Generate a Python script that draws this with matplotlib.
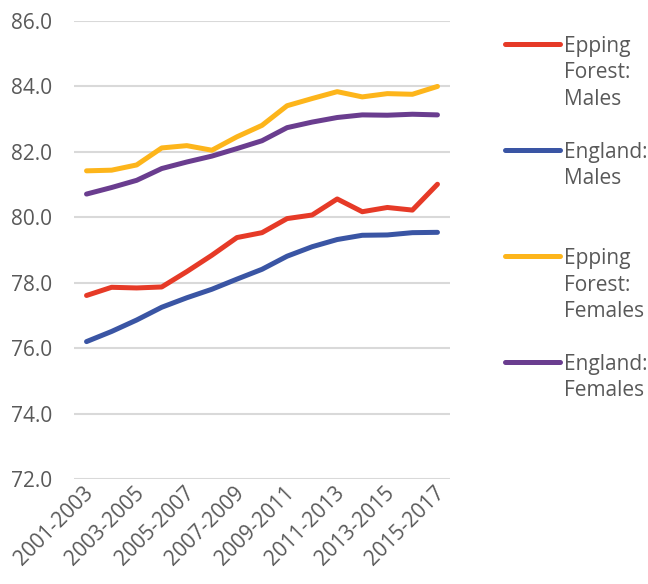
import matplotlib
matplotlib.use("Agg")
import matplotlib.pyplot as plt
from matplotlib.lines import Line2D
from matplotlib.transforms import ScaledTranslation

plt.rcParams['font.family'] = ['Open Sans', 'DejaVu Sans']

periods = ["2001-2003", "2002-2004", "2003-2005", "2004-2006", "2005-2007",
           "2006-2008", "2007-2009", "2008-2010", "2009-2011", "2010-2012",
           "2011-2013", "2012-2014", "2013-2015", "2014-2016", "2015-2017"]

epping_males = [77.61, 77.86, 77.84, 77.87, 78.34, 78.84, 79.38, 79.53,
                79.96, 80.07, 80.56, 80.17, 80.30, 80.22, 81.01]
england_males = [76.20, 76.51, 76.86, 77.25, 77.54, 77.80, 78.11, 78.41,
                 78.81, 79.10, 79.32, 79.45, 79.46, 79.53, 79.54]
epping_females = [81.42, 81.44, 81.60, 82.12, 82.19, 82.05, 82.46, 82.81,
                  83.41, 83.63, 83.84, 83.68, 83.78, 83.76, 84.00]
england_females = [80.71, 80.91, 81.13, 81.49, 81.69, 81.87, 82.10, 82.34,
                   82.74, 82.91, 83.05, 83.13, 83.12, 83.15, 83.13]

series_labels = ["Epping\nForest:\nMales", "England:\nMales",
                 "Epping\nForest:\nFemales", "England:\nFemales"]
series_colors = ["#E63A27", "#3A55A4", "#FDB51B", "#6A3D8F"]
series_values = [epping_males, england_males, epping_females, england_females]

yticks = [72.0, 74.0, 76.0, 78.0, 80.0, 82.0, 84.0, 86.0]

W, H = 648, 584
fig = plt.figure(figsize=(W / 100, H / 100), dpi=100)
ax = fig.add_axes([74 / W, 1 - 479 / H, (450 - 74) / W, (479 - 21) / H])

text_color = "#595959"
fs = 15
lw = 3.6
x = list(range(len(periods)))
for vals, col in zip(series_values, series_colors):
    ax.plot(x, vals, color=col, linewidth=lw, solid_capstyle='round',
            solid_joinstyle='round', zorder=3)

ax.set_xlim(-0.5, len(periods) - 0.5)
ax.set_ylim(72.0, 86.0)
ax.set_yticks(yticks)
ax.set_yticklabels([f"{v:.1f}" for v in yticks], fontsize=fs, color=text_color)
ax.yaxis.grid(True, color="#D9D9D9", linewidth=1.5)
ax.set_axisbelow(True)
for s in ax.spines.values():
    s.set_visible(False)
ax.tick_params(axis='both', length=0)
ax.tick_params(axis='y', pad=16)

shown = x[::2]
ax.set_xticks(shown)
ax.set_xticklabels([periods[i] for i in shown], fontsize=fs, color=text_color,
                   rotation=45, ha='right', va='center', rotation_mode='anchor')
ax.tick_params(axis='x', pad=8)
shift = ScaledTranslation(4 / 100, 0, fig.dpi_scale_trans)
for lbl in ax.get_xticklabels():
    lbl.set_transform(lbl.get_transform() + shift)

# legend drawn at the right, with each key line level with the label's first line
legend_y = [44, 150, 256, 362]
line_step = 26.5
for lab, col, y0 in zip(series_labels, series_colors, legend_y):
    yf = 1 - y0 / H
    fig.add_artist(Line2D([505 / W, 560 / W], [yf, yf], color=col,
                          linewidth=lw, solid_capstyle='round'))
    for i, part in enumerate(lab.split("\n")):
        yy = 1 - (y0 + i * line_step + 8) / H
        fig.text(564 / W, yy, part, fontsize=fs, color=text_color,
                 ha='left', va='baseline')

fig.savefig("out.png", dpi=100, facecolor="white")
